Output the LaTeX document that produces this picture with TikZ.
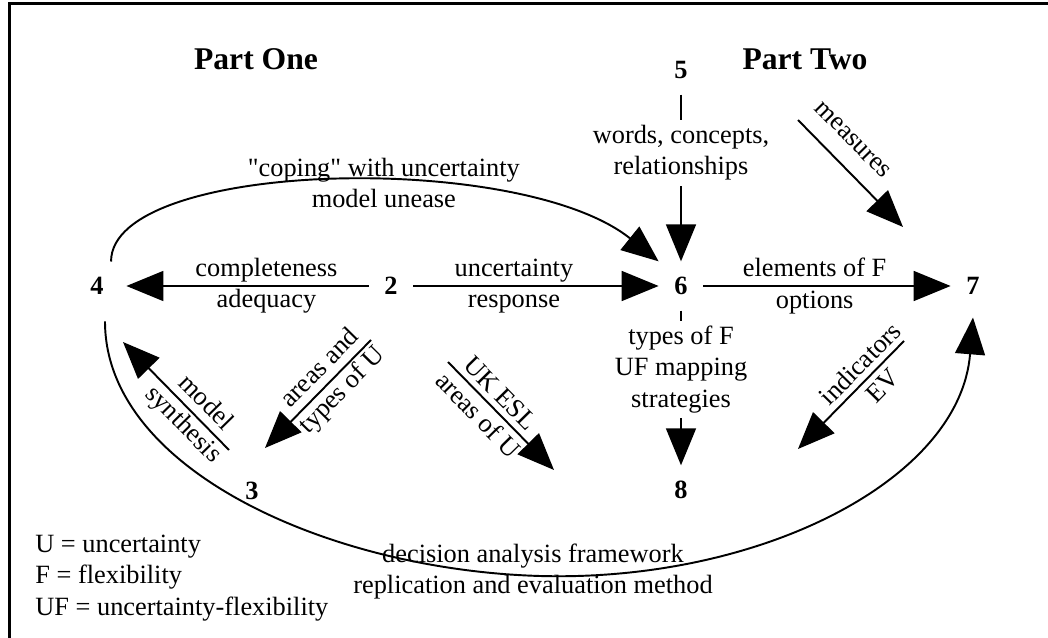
\documentclass[tikz,border=0pt]{standalone}
\usepackage{fontspec}
\setmainfont{Liberation Serif}[Ligatures=TeXOff]
\usetikzlibrary{arrows.meta}

\tikzset{
    num/.style={font=\fontsize{15}{18}\selectfont\bfseries, inner sep=0pt, outer sep=9pt},
    head/.style={font=\fontsize{18}{21}\selectfont\bfseries},
    lbl/.style={font=\fontsize{15}{17.8}\selectfont, align=center, inner sep=1pt},
    flow/.style={line width=1.1pt, -{Triangle[length=21pt,width=17pt]}},
}

\begin{document}
\begin{tikzpicture}[x=0.02cm, y=-0.02cm]
        \useasboundingbox (0,0) rectangle (1048,638);
        \clip (0,0) rectangle (1048,638);
        \draw[line width=2pt] (9.5,3.5) rectangle (1100,700); %frame

        \node[head] (partOne) at (256,59) {Part One};
        \node[head] (partTwo) at (805,59) {Part Two};

        % --------------------------------------------------

        \node[num] (n4) at (97,286) {4};
        \node[num] (n2) at (391,286) {2};
        \node[num] (n3) at (252,491) {3};
        \node[num] (n5) at (681,70) {5};
        \node[num] (n6) at (681,286) {6};
        \node[num] (n7) at (973,286) {7};
        \node[num] (n8) at (681,490) {8};

        \coordinate (measTail) at (798,120); \coordinate (measTip) at (903,227);
        \coordinate (indTail) at (904,341);  \coordinate (indTip) at (798,449);
        \coordinate (areaTail) at (371,340); \coordinate (areaTip) at (265,448);
        \coordinate (eslTail) at (448,362);  \coordinate (eslTip) at (554,470);
        \coordinate (synTail) at (229,450);  \coordinate (synTip) at (123,342);

        % --------------------------------------------------

        \draw[flow, shorten >=4pt] (n2) -- node[lbl, pos=0.41] {completeness\\adequacy} (n4);
        \draw[flow] (n2) -- node[lbl, pos=0.41] {uncertainty\\response} (n6);
        \draw[flow] (n6) -- node[lbl, pos=0.45] {elements of F\\options} (n7);
        \draw[flow] (n5) -- node[lbl, fill=white, inner sep=3pt, pos=0.35] {words, concepts,\\relationships} (n6);
        \draw[flow] (n6) -- node[lbl, fill=white, inner sep=3pt, pos=0.38] {types of F\\UF mapping\\strategies} (n8);

        \draw[flow] (measTail) -- node[lbl, sloped, above=9pt, pos=0.35] {measures} (measTip);
        \draw[flow] (indTail) -- node[lbl, sloped, pos=0.31] {indicators\\EV} (indTip);
        \draw[flow] (areaTail) -- node[lbl, sloped, pos=0.37] {areas and\\types of U} (areaTip);
        \draw[flow] (eslTail) -- node[lbl, sloped, pos=0.39] {UK ESL\\areas of U} (eslTip);
        \draw[flow] (synTail) -- node[lbl, sloped, pos=0.33] {model\\synthesis} (synTip);

        % --------------------------------------------------

        \draw[flow] ([xshift=8pt]n4.north) .. controls (111,160) and (520,150) .. (n6.north west)
            node[lbl, pos=0.57] {"coping" with uncertainty\\model unease};
        \draw[flow] ([shift={(8,11)}]n4.south) .. controls (105,470) and (330,570) .. (540,576)
            node[lbl, pos=1, xshift=-4pt, yshift=2.5pt] {decision analysis framework\\replication and evaluation method}
            .. controls (760,582) and (960,480) .. ([yshift=-4pt]n7.south);

        \node[lbl, align=left, anchor=west, inner sep=0pt] (legend) at (35,578) {U = uncertainty\\F = flexibility\\UF = uncertainty-flexibility};
\end{tikzpicture}
\end{document}
